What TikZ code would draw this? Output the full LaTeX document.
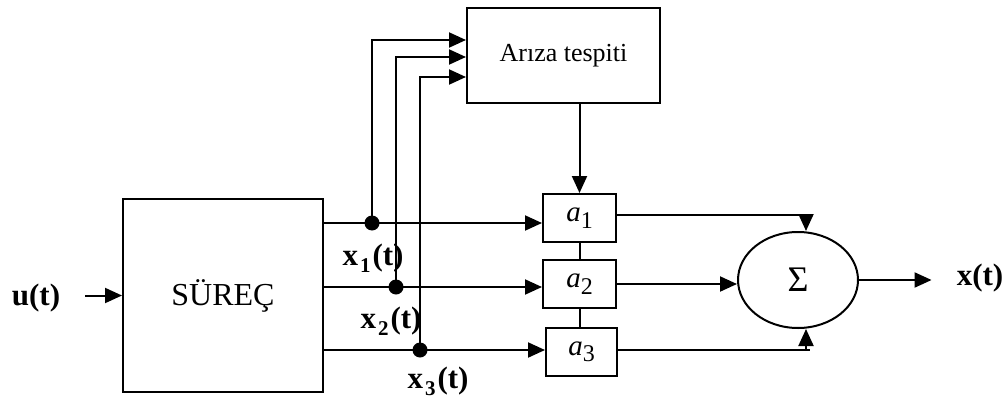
\documentclass[tikz,border=0pt]{standalone}
\usepackage{fontspec}
\setmainfont{Liberation Serif}
\usetikzlibrary{arrows.meta,shapes.geometric}
\begin{document}
\begin{tikzpicture}[x=1pt,y=-1pt,
  ln/.style={line width=2pt},
  box/.style={draw,line width=2pt,inner sep=0pt},
  arr/.style={line width=2pt,-{Triangle[length=17pt,width=15pt]}},
  dotn/.style={circle,fill,inner sep=0pt,minimum size=15pt},
  lab/.style={font=\fontsize{31}{36}\selectfont\bfseries,inner sep=0pt},
  alab/.style={font=\fontsize{29}{32}\selectfont}]
\useasboundingbox (0,0) rectangle (1008,404);
% blocks
\node[box,minimum width=200pt,minimum height=193pt,font=\fontsize{32}{36}\selectfont] (proc) at (223,295.5) {SÜREÇ};
\node[box,minimum width=193pt,minimum height=95pt,font=\fontsize{26}{30}\selectfont] (ariza) at (563.5,55.5) {Arıza tespiti};
\node[box,minimum width=73pt,minimum height=48pt,alab] (a1) at (579.5,218) {\textit{a}\raisebox{-6.5pt}{\fontsize{24}{24}\selectfont 1}};
\node[box,minimum width=73pt,minimum height=48pt,alab] (a2) at (579.5,284) {\textit{a}\raisebox{-6.5pt}{\fontsize{24}{24}\selectfont 2}};
\node[box,minimum width=71pt,minimum height=48pt,alab] (a3) at (581.5,352) {\textit{a}\raisebox{-6.5pt}{\fontsize{24}{24}\selectfont 3}};
\node[ellipse,draw,line width=2pt,minimum width=120pt,minimum height=96pt,inner sep=0pt,font=\fontsize{36}{38}\selectfont] (sum) at (798,280) {Σ};
% labels
\node[lab] (ut) at (36,298) {u(t)};
\node[lab] (xt) at (980,278) {x(t)};
\node[lab] (x1) at (373,258) {x\hspace{2pt}\raisebox{-7pt}{\fontsize{21}{21}\selectfont 1}\hspace{2pt}(t)};
\node[lab] (x2) at (391,321) {x\hspace{2pt}\raisebox{-7pt}{\fontsize{21}{21}\selectfont 2}\hspace{2pt}(t)};
\node[lab] (x3) at (438,381) {x\hspace{2pt}\raisebox{-7pt}{\fontsize{21}{21}\selectfont 3}\hspace{2pt}(t)};
% branch points
\node[dotn] (d1) at (372,223) {};
\node[dotn] (d2) at (396,287) {};
\node[dotn] (d3) at (420,350) {};
\coordinate (k1) at (806,215);
\coordinate (k3) at (806,350);
% connectors
\draw[arr] ([xshift=25pt]ut.east |- proc.west) -- (proc.west);
\draw[arr] (proc.east |- d1) -- (a1.west |- d1);
\draw[arr] (proc.east |- d2) -- (a2.west |- d2);
\draw[arr] (proc.east |- d3) -- (a3.west |- d3);
\draw[arr] (d1.center) |- (ariza.west |- 0,40);
\draw[arr] (d2.center) |- (ariza.west |- 0,57);
\draw[arr] (d3.center) |- (ariza.west |- 0,77);
\draw[arr] (ariza.south -| a1.north) -- (a1.north);
\draw[ln] (a1.south) -- (a2.north);
\draw[ln] (a2.south) -- (a2.south |- a3.north);
\draw[ln] (a1.east |- k1) -- ([xshift=1pt]k1);
\draw[arr] ([yshift=-6pt]k1) -- (k1 |- sum.north);
\draw[arr] (a2.east) -- (a2.east -| sum.west);
\draw[ln] (a3.east |- k3) -- ([xshift=4pt]k3);
\draw[arr] (k3) -- (k3 |- sum.south);
\draw[arr] (sum.east) -- ([xshift=-25pt]xt.west |- sum.east);
\end{tikzpicture}
\end{document}
